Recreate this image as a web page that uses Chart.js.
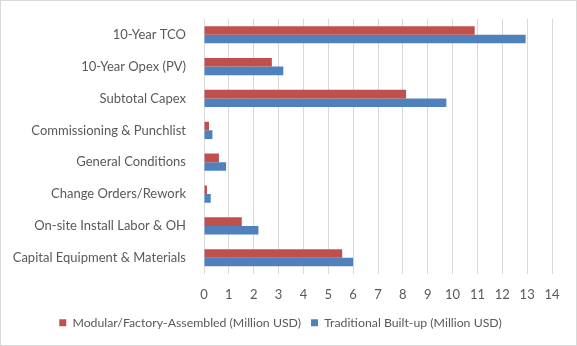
<!DOCTYPE html>
<html>
<head>
<meta charset="utf-8">
<script src="https://cdn.jsdelivr.net/npm/chart.js@4"></script>
<style>
  body { margin: 0; background: #fff; }
  #wrap { width: 575px; height: 344px; border: 1px solid #d9d9d9; }
</style>
</head>
<body>
<div id="wrap"><canvas id="tcoChart" width="575" height="344"></canvas></div>
<script>
// categorías (de abajo hacia arriba, como en Excel)
const categorias = [
  'Capital Equipment & Materials',
  'On-site Install Labor & OH',
  'Change Orders/Rework',
  'General Conditions',
  'Commissioning & Punchlist',
  'Subtotal Capex',
  '10-Year Opex (PV)',
  '10-Year TCO'
];
const modular = [5.56, 1.52, 0.12, 0.6, 0.2, 8.13, 2.73, 10.89];
const tradicional = [6.0, 2.19, 0.27, 0.89, 0.34, 9.75, 3.19, 12.94];
const ticksX = [0, 1, 2, 3, 4, 5, 6, 7, 8, 9, 10, 11, 12, 13, 14];

const gris = '#595959';
const familia = 'Lato, "Open Sans", sans-serif';

const ctx = document.getElementById('tcoChart');
new Chart(ctx, {
  type: 'bar',
  data: {
    labels: categorias,
    datasets: [
      {
        label: 'Modular/Factory-Assembled (Million USD)',
        data: modular,
        backgroundColor: '#C0504D',
        borderWidth: 0
      },
      {
        label: 'Traditional Built-up (Million USD)',
        data: tradicional,
        backgroundColor: '#4F81BD',
        borderWidth: 0
      }
    ]
  },
  options: {
    indexAxis: 'y',
    responsive: false,
    animation: false,
    layout: { padding: { left: 8, right: 24, top: 16, bottom: 6 } },
    datasets: { bar: { categoryPercentage: 0.54, barPercentage: 1.0 } },
    plugins: {
      tooltip: { enabled: false },
      legend: {
        position: 'bottom',
        labels: {
          color: gris,
          font: { family: familia, size: 12.3 },
          boxWidth: 7,
          boxHeight: 7,
          padding: 10
        }
      }
    },
    scales: {
      x: {
        min: 0,
        max: 14,
        afterBuildTicks: s => { s.ticks = ticksX.map(v => ({ value: v })); },
        afterFit: s => { s.height = 33; },
        grid: { color: '#d9d9d9', lineWidth: 1, drawTicks: false },
        border: { display: false },
        ticks: { color: gris, font: { family: familia, size: 13 }, padding: 13 }
      },
      y: {
        reverse: true,
        afterFit: s => { s.width = 195; },
        grid: { display: false },
        border: { display: false },
        ticks: { color: gris, font: { family: familia, size: 13 }, padding: 10 }
      }
    }
  }
});
</script>
</body>
</html>
